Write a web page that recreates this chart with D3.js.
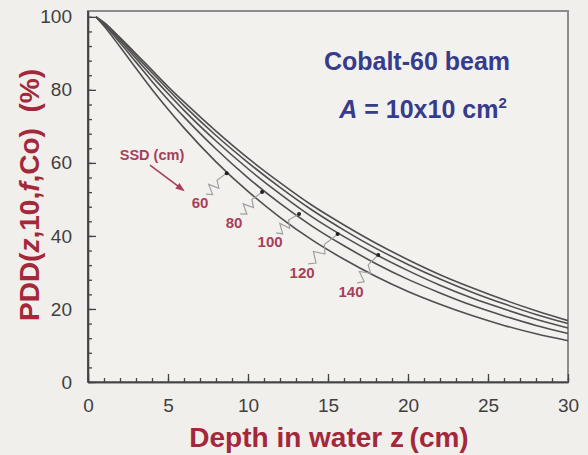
<!DOCTYPE html>
<html><head><meta charset="utf-8">
<script src="https://cdn.jsdelivr.net/npm/d3@7"></script>
<style>
body{margin:0;background:#f1efec;}
svg{display:block;font-family:"Liberation Sans",Arial,sans-serif;}
</style>
</head><body>
<svg id="c" width="588" height="455"></svg>
<script>
// ---- data ----
const depth  = [0.5, 1, 2, 3, 4, 5, 6, 8, 10, 12, 14, 16, 18, 20, 22, 24, 26, 28, 30];
const ssd    = [60, 80, 100, 120, 140];
const pdd60  = [100, 97.5, 91.8, 85.9, 80.1, 74.7, 69.6, 60.3, 52.2, 45.1, 38.9, 33.6, 28.9, 24.8, 21.3, 18.2, 15.5, 13.2, 11.3];
const pdd80  = [100, 97.9, 92.9, 87.6, 82.3, 77.3, 72.6, 63.8, 55.9, 48.9, 42.7, 37.3, 32.4, 28.1, 24.4, 21.0, 18.1, 15.5, 13.3];
const pdd100 = [100, 98.2, 93.5, 88.6, 83.7, 79.0, 74.4, 66.0, 58.4, 51.5, 45.2, 39.8, 34.9, 30.5, 26.5, 23.0, 20.0, 17.2, 14.8];
const pdd120 = [100, 98.3, 94.0, 89.3, 84.7, 80.1, 75.7, 67.5, 60.1, 53.3, 47.1, 41.6, 36.6, 32.2, 28.2, 24.6, 21.4, 18.5, 16.0];
const pdd140 = [100, 98.5, 94.3, 89.9, 85.4, 80.9, 76.7, 68.7, 61.3, 54.6, 48.4, 43.0, 38.0, 33.5, 29.4, 25.8, 22.5, 19.5, 16.8];
const xTicks = [0, 5, 10, 15, 20, 25, 30];
const yTicks = [0, 20, 40, 60, 80, 100];
const xMinor = d3.range(0, 31, 1);
const yMinor = d3.range(0, 101, 4);
// annotation anchors (data units): label position and pointed point
const labelZ = [7.0, 9.13, 11.38, 13.38, 16.44];
const labelV = [47.6, 42.2, 37.0, 28.5, 23.3];
const dotZ   = [8.67, 10.88, 13.19, 15.6, 18.14];
const dotV   = [57.2, 52.0, 46.0, 40.5, 34.8];

const series = [pdd60, pdd80, pdd100, pdd120, pdd140];

const svg = d3.select("#c");
const x = d3.scaleLinear().domain([0, 30]).range([88, 568]);
const y = d3.scaleLinear().domain([0, 101.6]).range([382, 11]);

// frame
svg.append("rect").attr("x", x(0)).attr("y", y(101.6)).attr("width", x(30) - x(0)).attr("height", y(0) - y(101.6))
  .attr("fill", "#f3f1ee").attr("stroke", "#8c8c8c").attr("stroke-width", 2);

// curves
const line = d3.line().x((d, i) => x(depth[i])).y(d => y(d)).curve(d3.curveMonotoneX);
svg.append("g").selectAll("path").data(series).join("path")
  .attr("d", d => line(d)).attr("fill", "none").attr("stroke", "#4f4f4f").attr("stroke-width", 1.6);

// axes
const tickColor = "#444";
const gx = svg.append("g").attr("transform", `translate(0,${y(0)})`)
  .call(d3.axisBottom(x).tickValues(xTicks).tickSizeInner(-8).tickSizeOuter(0).tickPadding(17));
const gxm = svg.append("g").attr("transform", `translate(0,${y(0)})`)
  .call(d3.axisBottom(x).tickValues(xMinor).tickSizeInner(-4).tickSizeOuter(0).tickFormat(""));
const gy = svg.append("g").attr("transform", `translate(${x(0)},0)`)
  .call(d3.axisLeft(y).tickValues(yTicks).tickSizeInner(-8).tickSizeOuter(0).tickPadding(16));
const gym = svg.append("g").attr("transform", `translate(${x(0)},0)`)
  .call(d3.axisLeft(y).tickValues(yMinor).tickSizeInner(-4).tickSizeOuter(0).tickFormat(""));
[gx, gxm, gy, gym].forEach(g => {
  g.select(".domain").attr("stroke", tickColor).attr("stroke-width", 1.6);
  g.selectAll(".tick line").attr("stroke", tickColor).attr("stroke-width", 1.3);
  g.selectAll(".tick text").attr("fill", "#404040").attr("font-size", 19)
   .attr("font-family", "'Liberation Sans',Arial,sans-serif");
});
gy.select(".domain").attr("d", `M0,${y(101.6)}V${y(0)}`);

// axis titles
const red = "#a3283a";
svg.append("text").attr("x", 329).attr("y", 447).attr("text-anchor", "middle")
  .attr("font-size", 28).attr("font-weight", "bold").attr("fill", red)
  .text("Depth in water z\u2009(cm)");

const yt = svg.append("text").attr("transform", "translate(39,195) rotate(-90)").attr("text-anchor", "middle")
  .attr("font-size", 28).attr("font-weight", "bold").attr("fill", red);
yt.append("tspan").text("PDD(");
yt.append("tspan").attr("font-style", "italic").text("z");
yt.append("tspan").text(",10,");
yt.append("tspan").attr("font-style", "italic").text("f");
yt.append("tspan").text(",Co)\u00a0\u00a0(%)");

// beam description
const blue = "#363b8c";
svg.append("text").attr("x", 417).attr("y", 70).attr("text-anchor", "middle")
  .attr("font-size", 25).attr("font-weight", "bold").attr("fill", blue).text("Cobalt-60 beam");
const at = svg.append("text").attr("x", 423).attr("y", 118).attr("text-anchor", "middle")
  .attr("font-size", 25).attr("font-weight", "bold").attr("fill", blue);
at.append("tspan").attr("font-style", "italic").text("A");
at.append("tspan").text(" = 10x10 cm");
at.append("tspan").attr("font-size", 15).attr("dy", -10).text("2");

// SSD annotation
const lab = "#a6405a";
svg.append("text").attr("x", x(4.0)).attr("y", y(60.8)).attr("text-anchor", "middle")
  .attr("font-size", 14.5).attr("font-weight", "bold").attr("fill", lab).text("SSD (cm)");
const ax0 = x(3.875), ay0 = y(59.4), ax1 = x(5.94), ay1 = y(52.6);
svg.append("line").attr("x1", ax0).attr("y1", ay0).attr("x2", ax1).attr("y2", ay1)
  .attr("stroke", lab).attr("stroke-width", 1.6);
const ang = Math.atan2(ay1 - ay0, ax1 - ax0);
const ah = 7, aw = 3.5;
svg.append("path").attr("fill", lab).attr("d",
  `M${ax1 + 2 * Math.cos(ang)},${ay1 + 2 * Math.sin(ang)}` +
  `L${ax1 - ah * Math.cos(ang) + aw * Math.sin(ang)},${ay1 - ah * Math.sin(ang) - aw * Math.cos(ang)}` +
  `L${ax1 - ah * Math.cos(ang) - aw * Math.sin(ang)},${ay1 - ah * Math.sin(ang) + aw * Math.cos(ang)}Z`);

// SSD labels with zig-zag leaders and dots
const g = svg.append("g");
ssd.forEach((s, i) => {
  const lx = x(labelZ[i]), ly = y(labelV[i]);
  g.append("text").attr("x", lx).attr("y", ly).attr("text-anchor", "middle")
    .attr("font-size", 15).attr("font-weight", "bold").attr("fill", lab).text(s);
  const sx = lx + 6, sy = ly - 14;
  const ex = x(dotZ[i]), ey = y(dotV[i]);
  const dx = ex - sx, dy = ey - sy, L = Math.hypot(dx, dy);
  const nx = -dy / L, ny = dx / L;
  const ts = [0, 0.15, 0.3, 0.45, 0.6, 1];
  const amps = [0, 5, -5, 5, -2, 0];
  const pts = ts.map((t, k) => [sx + dx * t + nx * amps[k], sy + dy * t + ny * amps[k]]);
  g.append("path").attr("d", d3.line()(pts))
    .attr("fill", "none").attr("stroke", "#a0a0a0").attr("stroke-width", 1.2);
  g.append("circle").attr("cx", ex).attr("cy", ey).attr("r", 2).attr("fill", "#222");
});
</script>
</body></html>
